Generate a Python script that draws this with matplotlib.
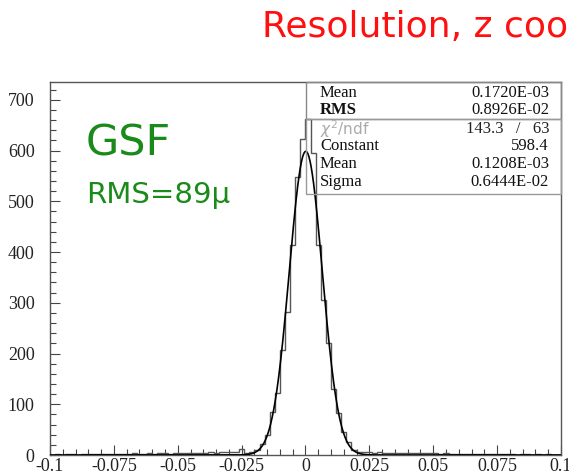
import matplotlib
matplotlib.use('Agg')
import matplotlib.pyplot as plt
from matplotlib.patches import Rectangle
import numpy as np

# histogram: 100 bins from -0.1 to 0.1 (counts)
bin_lo, bin_hi, n_bins = -0.1, 0.1, 100
counts = [
    0, 1, 0, 1, 1, 0, 1, 1, 2, 1,
    1, 2, 1, 2, 2, 1, 3, 2, 2, 3,
    2, 3, 3, 2, 4, 3, 3, 4, 3, 4,
    4, 5, 4, 5, 5, 6, 5, 12, 4, 6,
    10, 22, 40, 85, 122, 207, 282, 414, 548, 623,
    663, 596, 414, 306, 221, 130, 83, 45, 25, 10,
    6, 5, 5, 4, 5, 4, 4, 3, 4, 3,
    4, 3, 3, 4, 3, 3, 2, 3, 2, 2,
    2, 2, 1, 2, 1, 1, 2, 1, 1, 1,
    1, 0, 1, 1, 0, 1, 0, 1, 0, 0,
]

# gaussian fit parameters from the stats box
fit_const = 598.4
fit_mean = 0.1208E-03
fit_sigma = 0.6444E-02

stats_top = [('Mean', '0.1720E-03'), ('RMS', '0.8926E-02')]
stats_fit = [('Constant', '598.4'), ('Mean', '0.1208E-03'), ('Sigma', '0.6444E-02')]
chi2_text = '143.3   /   63'

x_ticks = [-0.1, -0.075, -0.05, -0.025, 0, 0.025, 0.05, 0.075, 0.1]
x_labels = ['-0.1', '-0.075', '-0.05', '-0.025', '0', '0.025', '0.05', '0.075', '0.1']
y_ticks = [0, 100, 200, 300, 400, 500, 600, 700]

W, H = 569, 474
fig = plt.figure(figsize=(W / 100, H / 100), dpi=100, facecolor='white')


def fx(x):
    return x / W


def fy(y):
    return 1 - y / H


ax = fig.add_axes([fx(50), fy(455), fx(561) - fx(50), fy(82) - fy(455)])

edges = np.linspace(bin_lo, bin_hi, n_bins + 1)
ax.stairs(counts, edges, color='#555555', linewidth=1.0, zorder=3)

xs = np.linspace(bin_lo, bin_hi, 2000)
ys = fit_const * np.exp(-0.5 * ((xs - fit_mean) / fit_sigma) ** 2)
ax.plot(xs, ys, color='black', linewidth=1.2, zorder=4)

ax.set_xlim(bin_lo, bin_hi)
ax.set_ylim(0, 735)
ax.set_xticks(x_ticks)
ax.set_xticklabels(x_labels)
ax.set_yticks(y_ticks)
ax.set_xticks(np.arange(-0.1, 0.1001, 0.005), minor=True)
ax.set_yticks(np.arange(0, 735, 20), minor=True)
ax.tick_params(which='both', direction='in', color='#444444', width=0.8,
               top=False, right=False)
ax.tick_params(which='major', length=7)
ax.tick_params(which='minor', length=4)
for lab in ax.get_xticklabels() + ax.get_yticklabels():
    lab.set_fontfamily('Liberation Serif')
    lab.set_fontsize(13)
    lab.set_color('#222222')
ax.tick_params(axis='x', pad=2)
ax.tick_params(axis='y', pad=11)
for sp in ax.spines.values():
    sp.set_color('#555555')
    sp.set_linewidth(1.0)

# stats boxes
fig.add_artist(Rectangle((fx(306), fy(119)), fx(561) - fx(306), fy(82) - fy(119),
                         fill=False, edgecolor='#888888', linewidth=1.0))
fig.add_artist(Rectangle((fx(306), fy(194)), fx(561) - fx(306), fy(119) - fy(194),
                         fill=False, edgecolor='#999999', linewidth=1.0))

serif = 'Liberation Serif'
fs = 12
for (name, val), y in zip(stats_top, [93, 110]):
    fig.text(fx(320), fy(y), name, fontfamily=serif, fontsize=fs, va='center',
             fontweight='bold' if name == 'RMS' else 'normal', color='#111111')
    fig.text(fx(549), fy(y), val, fontfamily=serif, fontsize=fs, va='center',
             ha='right', color='#111111')

fig.text(fx(320), fy(129), r'$\chi^2$/ndf', fontfamily='DejaVu Sans', fontsize=11,
         va='center', color='#aaaaaa')
fig.text(fx(549), fy(129), chi2_text, fontfamily=serif, fontsize=fs, va='center',
         ha='right', color='#222222')
for (name, val), y in zip(stats_fit, [146, 164, 182]):
    fig.text(fx(320), fy(y), name, fontfamily=serif, fontsize=fs, va='center',
             color='#111111')
    fig.text(fx(549), fy(y), val, fontfamily=serif, fontsize=fs, va='center',
             ha='right', color='#111111')

# annotations
fig.text(fx(262), fy(37), 'Resolution, z coordinate', color='#ff1010',
         fontsize=26, va='baseline', ha='left')
fig.text(fx(86), fy(155), 'GSF', color='#1a8a1a', fontsize=31, va='baseline')
fig.text(fx(86), fy(203), 'RMS=89\u03bc', color='#1a8a1a', fontsize=21, va='baseline')

fig.savefig('out.png', dpi=100, facecolor='white')
